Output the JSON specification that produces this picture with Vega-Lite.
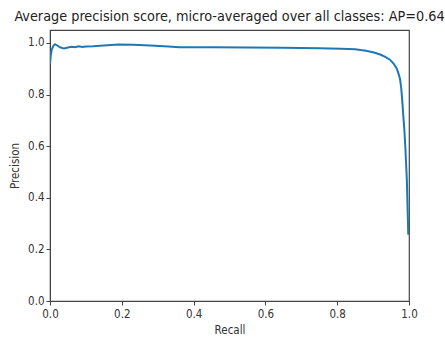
{
  "$schema": "https://vega.github.io/schema/vega-lite/v6.json",
  "width": 359,
  "height": 271,
  "autosize": "none",
  "padding": {"left": 50, "top": 30, "right": 36, "bottom": 37},
  "background": "white",
  "title": {
    "text": "Average precision score, micro-averaged over all classes: AP=0.64",
    "font": "DejaVu Sans Condensed",
    "fontSize": 14.3,
    "fontWeight": "normal",
    "color": "#222",
    "anchor": "middle",
    "offset": 6
  },
  "config": {
    "view": {"stroke": "#444", "strokeWidth": 1.2},
    "axis": {
      "grid": false,
      "domainColor": "#444",
      "tickColor": "#444",
      "tickSize": 4,
      "labelFont": "DejaVu Sans Condensed",
      "labelFontSize": 11.5,
      "labelColor": "#333",
      "titleFont": "DejaVu Sans Condensed",
      "titleFontSize": 11.5,
      "titleFontWeight": "normal",
      "titleColor": "#333"
    }
  },
  "data": {
    "values": [
      {"recall": 0.0, "precision": 0.92},
      {"recall": 0.002, "precision": 0.95},
      {"recall": 0.005, "precision": 0.975},
      {"recall": 0.01, "precision": 0.99},
      {"recall": 0.014, "precision": 0.995},
      {"recall": 0.02, "precision": 0.99},
      {"recall": 0.03, "precision": 0.982},
      {"recall": 0.039, "precision": 0.978},
      {"recall": 0.05, "precision": 0.982},
      {"recall": 0.06, "precision": 0.985},
      {"recall": 0.07, "precision": 0.983},
      {"recall": 0.08, "precision": 0.987},
      {"recall": 0.09, "precision": 0.984},
      {"recall": 0.1, "precision": 0.986},
      {"recall": 0.12, "precision": 0.987},
      {"recall": 0.15, "precision": 0.99},
      {"recall": 0.19, "precision": 0.994},
      {"recall": 0.23, "precision": 0.993},
      {"recall": 0.28, "precision": 0.99},
      {"recall": 0.33, "precision": 0.986},
      {"recall": 0.36, "precision": 0.983},
      {"recall": 0.45, "precision": 0.983},
      {"recall": 0.55, "precision": 0.982},
      {"recall": 0.65, "precision": 0.981},
      {"recall": 0.75, "precision": 0.979},
      {"recall": 0.81, "precision": 0.977},
      {"recall": 0.85, "precision": 0.975},
      {"recall": 0.88, "precision": 0.97},
      {"recall": 0.9, "precision": 0.964},
      {"recall": 0.92, "precision": 0.955},
      {"recall": 0.935, "precision": 0.945},
      {"recall": 0.947, "precision": 0.935},
      {"recall": 0.957, "precision": 0.92},
      {"recall": 0.966, "precision": 0.9},
      {"recall": 0.971, "precision": 0.88},
      {"recall": 0.975, "precision": 0.86},
      {"recall": 0.978, "precision": 0.83},
      {"recall": 0.981, "precision": 0.78},
      {"recall": 0.984, "precision": 0.72},
      {"recall": 0.987, "precision": 0.665},
      {"recall": 0.99, "precision": 0.59},
      {"recall": 0.994, "precision": 0.47},
      {"recall": 0.996, "precision": 0.36},
      {"recall": 0.998, "precision": 0.257}
    ]
  },
  "mark": {"type": "line", "color": "#1f77b4", "strokeWidth": 2, "clip": true},
  "encoding": {
    "x": {
      "field": "recall",
      "type": "quantitative",
      "scale": {"domain": [0, 1], "nice": false, "zero": false},
      "axis": {"values": [0, 0.2, 0.4, 0.6, 0.8, 1.0], "format": ".1f", "title": "Recall", "labelPadding": 3, "titlePadding": 5, "labelFlush": false}
    },
    "y": {
      "field": "precision",
      "type": "quantitative",
      "scale": {"domain": [0, 1.05], "nice": false, "zero": false},
      "axis": {"values": [0, 0.2, 0.4, 0.6, 0.8, 1.0], "format": ".1f", "title": "Precision", "labelPadding": 2, "titlePadding": 7, "labelFlush": false}
    }
  }
}
